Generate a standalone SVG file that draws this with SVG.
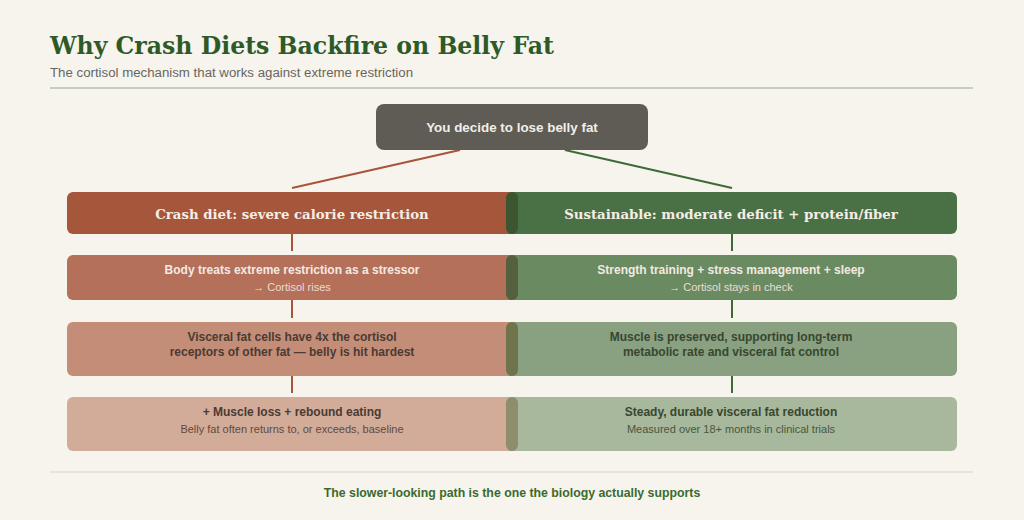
<svg xmlns="http://www.w3.org/2000/svg" width="1024" height="520" viewBox="0 0 1024 520">
<style>
.title{font-family:"DejaVu Serif",serif;font-weight:bold;font-size:23.6px;fill:#2E5A27}
.sub{font-family:"Liberation Sans",Arial,sans-serif;font-size:13.25px;fill:#666660}
.hdr{font-family:"DejaVu Serif",serif;font-weight:bold;font-size:13.3px;fill:#F5EEE6;text-anchor:middle}
.b{font-family:"Liberation Sans",Arial,sans-serif;font-weight:bold;font-size:12px;text-anchor:middle}
.s{font-family:"Liberation Sans",Arial,sans-serif;font-size:11px;text-anchor:middle}
.lt{fill:#F3E9E1}
.ls{fill:#EADBD2}
.dk{fill:#4A3B33}
.dg{fill:#37472F}
.conn line{stroke-width:2}
</style>
<rect width="1024" height="520" fill="#F7F4EE"/>
<text class="title" x="50" y="54">Why Crash Diets Backfire on Belly Fat</text>
<text class="sub" x="50" y="77">The cortisol mechanism that works against extreme restriction</text>
<line x1="50" y1="88" x2="973" y2="88" stroke="#B8BFB2" stroke-width="1.5"/>

<g class="conn">
<line x1="460" y1="150" x2="292" y2="188" stroke="#A6543A"/>
<line x1="565" y1="150" x2="732" y2="188" stroke="#3E6A38"/>
<line x1="292" y1="234" x2="292" y2="251" stroke="#A6543A"/>
<line x1="292" y1="300" x2="292" y2="318" stroke="#A6543A"/>
<line x1="292" y1="376" x2="292" y2="393" stroke="#A6543A"/>
<line x1="732" y1="234" x2="732" y2="251" stroke="#3E6A38"/>
<line x1="732" y1="300" x2="732" y2="318" stroke="#3E6A38"/>
<line x1="732" y1="376" x2="732" y2="393" stroke="#3E6A38"/>
</g>

<g id="start">
<rect x="376" y="104" width="272" height="46" rx="8" fill="#5F5C55"/>
<text class="b" x="512" y="132" style="font-size:13.4px" fill="#F1EEE8">You decide to lose belly fat</text>
</g>

<g id="crash-header">
<rect x="67" y="192" width="451" height="42" rx="6" fill="#A6563B"/>
<text class="hdr" x="292" y="219">Crash diet: severe calorie restriction</text>
</g>
<g id="sust-header">
<rect x="506" y="192" width="451" height="42" rx="6" fill="#4A7145"/>
<rect x="506" y="192" width="12" height="42" rx="6" fill="#3D5530"/>
<text class="hdr" x="731" y="219">Sustainable: moderate deficit + protein/fiber</text>
</g>

<g id="crash-2">
<rect x="67" y="255" width="451" height="45" rx="6" fill="#B5705A"/>
<text class="b lt" x="292" y="274">Body treats extreme restriction as a stressor</text>
<text class="s ls" x="292" y="291">→ Cortisol rises</text>
</g>
<g id="sust-2">
<rect x="506" y="255" width="451" height="45" rx="6" fill="#6A8B62"/>
<rect x="506" y="255" width="12" height="45" rx="6" fill="#55603E"/>
<text class="b lt" x="731" y="274">Strength training + stress management + sleep</text>
<text class="s ls" x="731" y="291">→ Cortisol stays in check</text>
</g>

<g id="crash-3">
<rect x="67" y="322" width="451" height="54" rx="6" fill="#C48D78"/>
<text class="b dk" x="292" y="341">Visceral fat cells have 4x the cortisol</text>
<text class="b dk" x="292" y="356">receptors of other fat — belly is hit hardest</text>
</g>
<g id="sust-3">
<rect x="506" y="322" width="451" height="54" rx="6" fill="#89A081"/>
<rect x="506" y="322" width="12" height="54" rx="6" fill="#6F744D"/>
<text class="b dg" x="731" y="341">Muscle is preserved, supporting long-term</text>
<text class="b dg" x="731" y="356">metabolic rate and visceral fat control</text>
</g>

<g id="crash-4">
<rect x="67" y="397" width="451" height="54" rx="6" fill="#D3AC99"/>
<text class="b dk" x="292" y="416">+ Muscle loss + rebound eating</text>
<text class="s" x="292" y="433" fill="#5E4A40">Belly fat often returns to, or exceeds, baseline</text>
</g>
<g id="sust-4">
<rect x="506" y="397" width="451" height="54" rx="6" fill="#A7B89D"/>
<rect x="506" y="397" width="12" height="54" rx="6" fill="#8E8D6C"/>
<text class="b dg" x="731" y="416">Steady, durable visceral fat reduction</text>
<text class="s" x="731" y="433" fill="#48573F">Measured over 18+ months in clinical trials</text>
</g>

<line x1="50" y1="472" x2="973" y2="472" stroke="#E2DFD7" stroke-width="1.5"/>
<text class="b" x="512" y="497" style="font-size:12.3px" fill="#3A6B2E">The slower-looking path is the one the biology actually supports</text>
</svg>
